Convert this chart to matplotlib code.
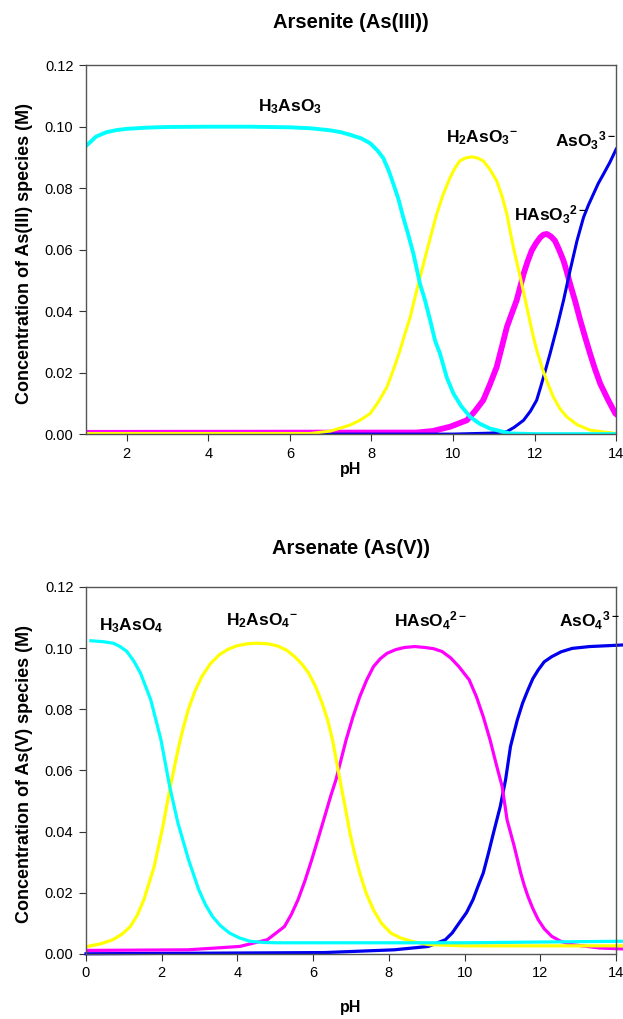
import matplotlib.pyplot as plt

plt.rcParams["font.family"] = ["Liberation Sans", "DejaVu Sans"]
plt.rcParams["mathtext.fontset"] = "custom"
plt.rcParams["mathtext.rm"] = "Liberation Sans"
plt.rcParams["mathtext.bf"] = "Liberation Sans:bold"

# Arsenite (As(III)) speciation
ph_h3aso3 = [1.0, 1.25, 1.5, 1.75, 2.0, 2.5, 3.0, 4.0, 5.0, 6.0, 6.5, 7.0, 7.25, 7.47, 7.75,
             7.97, 8.15, 8.29, 8.42, 8.54, 8.66, 8.78, 8.9, 9.03, 9.19, 9.31, 9.44, 9.56,
             9.68, 9.85, 10.01, 10.2, 10.42, 10.65, 10.91, 11.4, 12.0, 14.0]
c_h3aso3 = [0.0937, 0.0968, 0.0982, 0.0989, 0.0993, 0.0997, 0.0999, 0.1000, 0.1000, 0.0998,
            0.0995, 0.0988, 0.0982, 0.0974, 0.0962, 0.0946, 0.0922, 0.0898, 0.0858, 0.0813,
            0.0765, 0.0705, 0.0650, 0.0586, 0.0489, 0.0437, 0.0370, 0.0304, 0.0262, 0.0183,
            0.0132, 0.0091, 0.0056, 0.0034, 0.0018, 0.0002, 0.0, 0.0]

ph_h2aso3 = [1.0, 6.5, 7.0, 7.47, 7.72, 7.97, 8.17, 8.38, 8.54, 8.70, 8.83, 8.95, 9.05, 9.15,
             9.26, 9.36, 9.48, 9.60, 9.76, 9.93, 10.05, 10.17, 10.3, 10.46, 10.6, 10.74,
             10.9, 11.07, 11.2, 11.32, 11.4, 11.48, 11.65, 11.81, 11.97, 12.06, 12.18, 12.3,
             12.46, 12.62, 12.79, 13.05, 13.36, 13.93, 14.0]
c_h2aso3 = [0.0002, 0.0002, 0.0010, 0.0029, 0.0045, 0.0067, 0.0105, 0.0153, 0.0210, 0.0272,
            0.0330, 0.0380, 0.0435, 0.0489, 0.0545, 0.0597, 0.0657, 0.0716, 0.0780, 0.0835,
            0.0866, 0.0889, 0.0898, 0.0902, 0.0898, 0.0889, 0.0862, 0.0824, 0.0775, 0.0716,
            0.0660, 0.0608, 0.0510, 0.0413, 0.0316, 0.0270, 0.0218, 0.0172, 0.0121, 0.0083,
            0.0056, 0.0030, 0.0013, 0.0003, 0.0002]

ph_haso3 = [1.0, 9.1, 9.5, 9.93, 10.34, 10.54, 10.74, 10.9, 11.07, 11.2, 11.32, 11.44, 11.56,
            11.73, 11.83, 11.93, 12.04, 12.14, 12.22, 12.30, 12.4, 12.50, 12.6, 12.71, 12.79,
            12.87, 13.0, 13.12, 13.24, 13.36, 13.48, 13.61, 13.8, 13.98, 14.0]
c_haso3 = [0.0004, 0.0005, 0.0010, 0.0024, 0.0045, 0.0075, 0.0110, 0.0160, 0.0218, 0.0285,
           0.0348, 0.0392, 0.0435, 0.0521, 0.0562, 0.0597, 0.0622, 0.0640, 0.0649, 0.0651,
           0.0643, 0.0629, 0.0600, 0.0564, 0.0528, 0.0489, 0.0430, 0.0370, 0.0315, 0.0262,
           0.0212, 0.0164, 0.0112, 0.0067, 0.0065]

ph_aso3 = [1.0, 10.0, 10.9, 11.32, 11.5, 11.73, 11.9, 12.05, 12.13, 12.22, 12.38, 12.55,
           12.71, 12.87, 13.04, 13.20, 13.32, 13.44, 13.56, 13.69, 13.85, 14.0]
c_aso3 = [0.0, 0.0, 0.0003, 0.0008, 0.0022, 0.0045, 0.0075, 0.0110, 0.0145, 0.0186, 0.0262,
          0.0348, 0.0435, 0.0532, 0.0629, 0.0705, 0.0745, 0.0780, 0.0815, 0.0846, 0.0885,
          0.0927]

# Arsenate (As(V)) speciation
ph_h3aso4 = [0.13, 0.45, 0.72, 0.9, 1.08, 1.26, 1.44, 1.71, 1.98, 2.21, 2.43, 2.71, 2.98,
             3.15, 3.34, 3.55, 3.79, 4.05, 4.33, 4.7, 5.06, 10.0, 14.15]
c_h3aso4 = [0.1024, 0.1021, 0.1016, 0.1005, 0.0989, 0.0958, 0.0918, 0.0831, 0.0700, 0.0547,
            0.0427, 0.0307, 0.0209, 0.0162, 0.0122, 0.0092, 0.0068, 0.0052, 0.0041, 0.0037,
            0.0036, 0.0036, 0.0041]

ph_h2aso4 = [0.04, 0.4, 0.71, 0.95, 1.17, 1.35, 1.53, 1.80, 2.03, 2.21, 2.43, 2.55, 2.70,
             2.88, 3.06, 3.28, 3.52, 3.75, 3.97, 4.25, 4.52, 4.8, 5.06, 5.3, 5.51, 5.7, 5.88,
             6.06, 6.24, 6.38, 6.51, 6.74, 6.86, 6.97, 7.1, 7.23, 7.4, 7.59, 7.8, 8.05, 8.3,
             8.59, 9.04, 10.0, 14.15]
c_h2aso4 = [0.0024, 0.0033, 0.0046, 0.0064, 0.0089, 0.0125, 0.0177, 0.0285, 0.0416, 0.0536,
            0.0667, 0.0730, 0.0798, 0.0860, 0.0907, 0.0948, 0.0978, 0.0996, 0.1007, 0.1014,
            0.1016, 0.1014, 0.1007, 0.0993, 0.0972, 0.0948, 0.0918, 0.0875, 0.0819, 0.0765,
            0.0700, 0.0547, 0.0470, 0.0395, 0.0325, 0.0264, 0.0198, 0.0144, 0.0100, 0.0068,
            0.0052, 0.0041, 0.0030, 0.0026, 0.0026]

ph_haso4 = [0.04, 2.7, 4.06, 4.79, 5.24, 5.42, 5.60, 5.78, 5.96, 6.15, 6.33, 6.46, 6.60, 6.87,
            7.05, 7.23, 7.41, 7.59, 7.77, 7.95, 8.18, 8.41, 8.68, 8.95, 9.18, 9.40, 9.63,
            9.85, 10.12, 10.31, 10.49, 10.67, 10.85, 10.99, 11.12, 11.31, 11.4, 11.48, 11.57,
            11.67, 11.8, 11.94, 12.1, 12.30, 12.55, 12.84, 13.56, 14.15]
c_haso4 = [0.0011, 0.0013, 0.0024, 0.0046, 0.0089, 0.0128, 0.0177, 0.0238, 0.0307, 0.0385,
           0.0460, 0.0515, 0.0569, 0.0700, 0.0775, 0.0841, 0.0895, 0.0939, 0.0965, 0.0983,
           0.0995, 0.1002, 0.1005, 0.1002, 0.0998, 0.0989, 0.0968, 0.0939, 0.0896, 0.0841,
           0.0776, 0.0700, 0.0612, 0.0547, 0.0438, 0.0351, 0.0305, 0.0264, 0.0225, 0.0188,
           0.0148, 0.0112, 0.0082, 0.0057, 0.0040, 0.0030, 0.0019, 0.0016]

ph_aso4 = [0.0, 6.3, 8.14, 9.04, 9.49, 9.67, 9.85, 10.05, 10.22, 10.35, 10.49, 10.63, 10.76,
           10.94, 11.08, 11.21, 11.3, 11.39, 11.53, 11.67, 11.8, 11.94, 12.1, 12.30, 12.55,
           12.84, 13.3, 14.15]
c_aso4 = [0.0, 0.0004, 0.0013, 0.0024, 0.0046, 0.0068, 0.0100, 0.0135, 0.0177, 0.0220,
          0.0264, 0.0330, 0.0395, 0.0482, 0.0569, 0.0678, 0.0722, 0.0765, 0.0820, 0.0863,
          0.0900, 0.0928, 0.0955, 0.0972, 0.0988, 0.0999, 0.1005, 0.1010]

y_ticks = [0.0, 0.02, 0.04, 0.06, 0.08, 0.10, 0.12]

fig = plt.figure(figsize=(6.23, 10.19), dpi=100)
ax1 = fig.add_axes([0.138, 0.574, 0.851, 0.362])
ax2 = fig.add_axes([0.138, 0.064, 0.851, 0.360])


def style_axes(ax, xlim, xticks, species, xpad):
    ax.set_xlim(*xlim)
    ax.set_ylim(0, 0.12)
    ax.set_xticks(xticks)
    ax.set_yticks(y_ticks)
    ax.set_yticklabels([f"{v:.2f}" for v in y_ticks])
    ax.tick_params(direction="out", length=5, width=0.8, labelsize=10.5, color="#333333",
                   pad=4)
    for s in ax.spines.values():
        s.set_color("#555555")
        s.set_linewidth(1.0)
    ax.set_xlabel("pH", fontsize=11.5, fontweight="bold", labelpad=xpad)
    ax.set_ylabel(f"Concentration of {species} species (M)", fontsize=13,
                  fontweight="bold")
    ax.yaxis.set_label_coords(-0.1, 0.49)


# top panel
ax1.plot(ph_haso3, c_haso3, color="#ff00ff", lw=4.2)
ax1.plot(ph_aso3, c_aso3, color="#0000ee", lw=2.2)
ax1.plot(ph_h2aso3, c_h2aso3, color="#ffff00", lw=2.2)
ax1.plot(ph_h3aso3, c_h3aso3, color="#00ffff", lw=2.8)
style_axes(ax1, (1, 14), range(2, 15, 2), "As(III)", 1)
fig.text(0.563, 0.978, "Arsenite (As(III))", fontsize=14.5, fontweight="bold",
         ha="center", va="center")

lab = dict(fontsize=12.5, ha="center", va="center")
ax1.text(6.0, 0.1065, r"$\mathbf{H_3AsO_3}$", **lab)
ax1.text(10.7, 0.0965, r"$\mathbf{H_2AsO_3{}^{-}}$", **lab)
ax1.text(12.4, 0.0715, r"$\mathbf{HAsO_3{}^{2-}}$", **lab)
ax1.text(13.25, 0.0955, r"$\mathbf{AsO_3{}^{3-}}$", **lab)

# bottom panel
ax2.plot(ph_aso4, c_aso4, color="#0000ee", lw=2.3, clip_on=False)
ax2.plot(ph_haso4, c_haso4, color="#ff00ff", lw=2.3, clip_on=False)
ax2.plot(ph_h2aso4, c_h2aso4, color="#ffff00", lw=2.3, clip_on=False)
ax2.plot(ph_h3aso4, c_h3aso4, color="#00ffff", lw=2.3, clip_on=False)
style_axes(ax2, (0, 14), range(0, 15, 2), "As(V)", 14)
fig.text(0.563, 0.462, "Arsenate (As(V))", fontsize=14.5, fontweight="bold",
         ha="center", va="center")

ax2.text(1.2, 0.1075, r"$\mathbf{H_3AsO_4}$", **lab)
ax2.text(4.65, 0.109, r"$\mathbf{H_2AsO_4{}^{-}}$", **lab)
ax2.text(9.1, 0.109, r"$\mathbf{HAsO_4{}^{2-}}$", **lab)
ax2.text(13.3, 0.109, r"$\mathbf{AsO_4{}^{3-}}$", **lab)

fig.savefig("out.png", dpi=100)
